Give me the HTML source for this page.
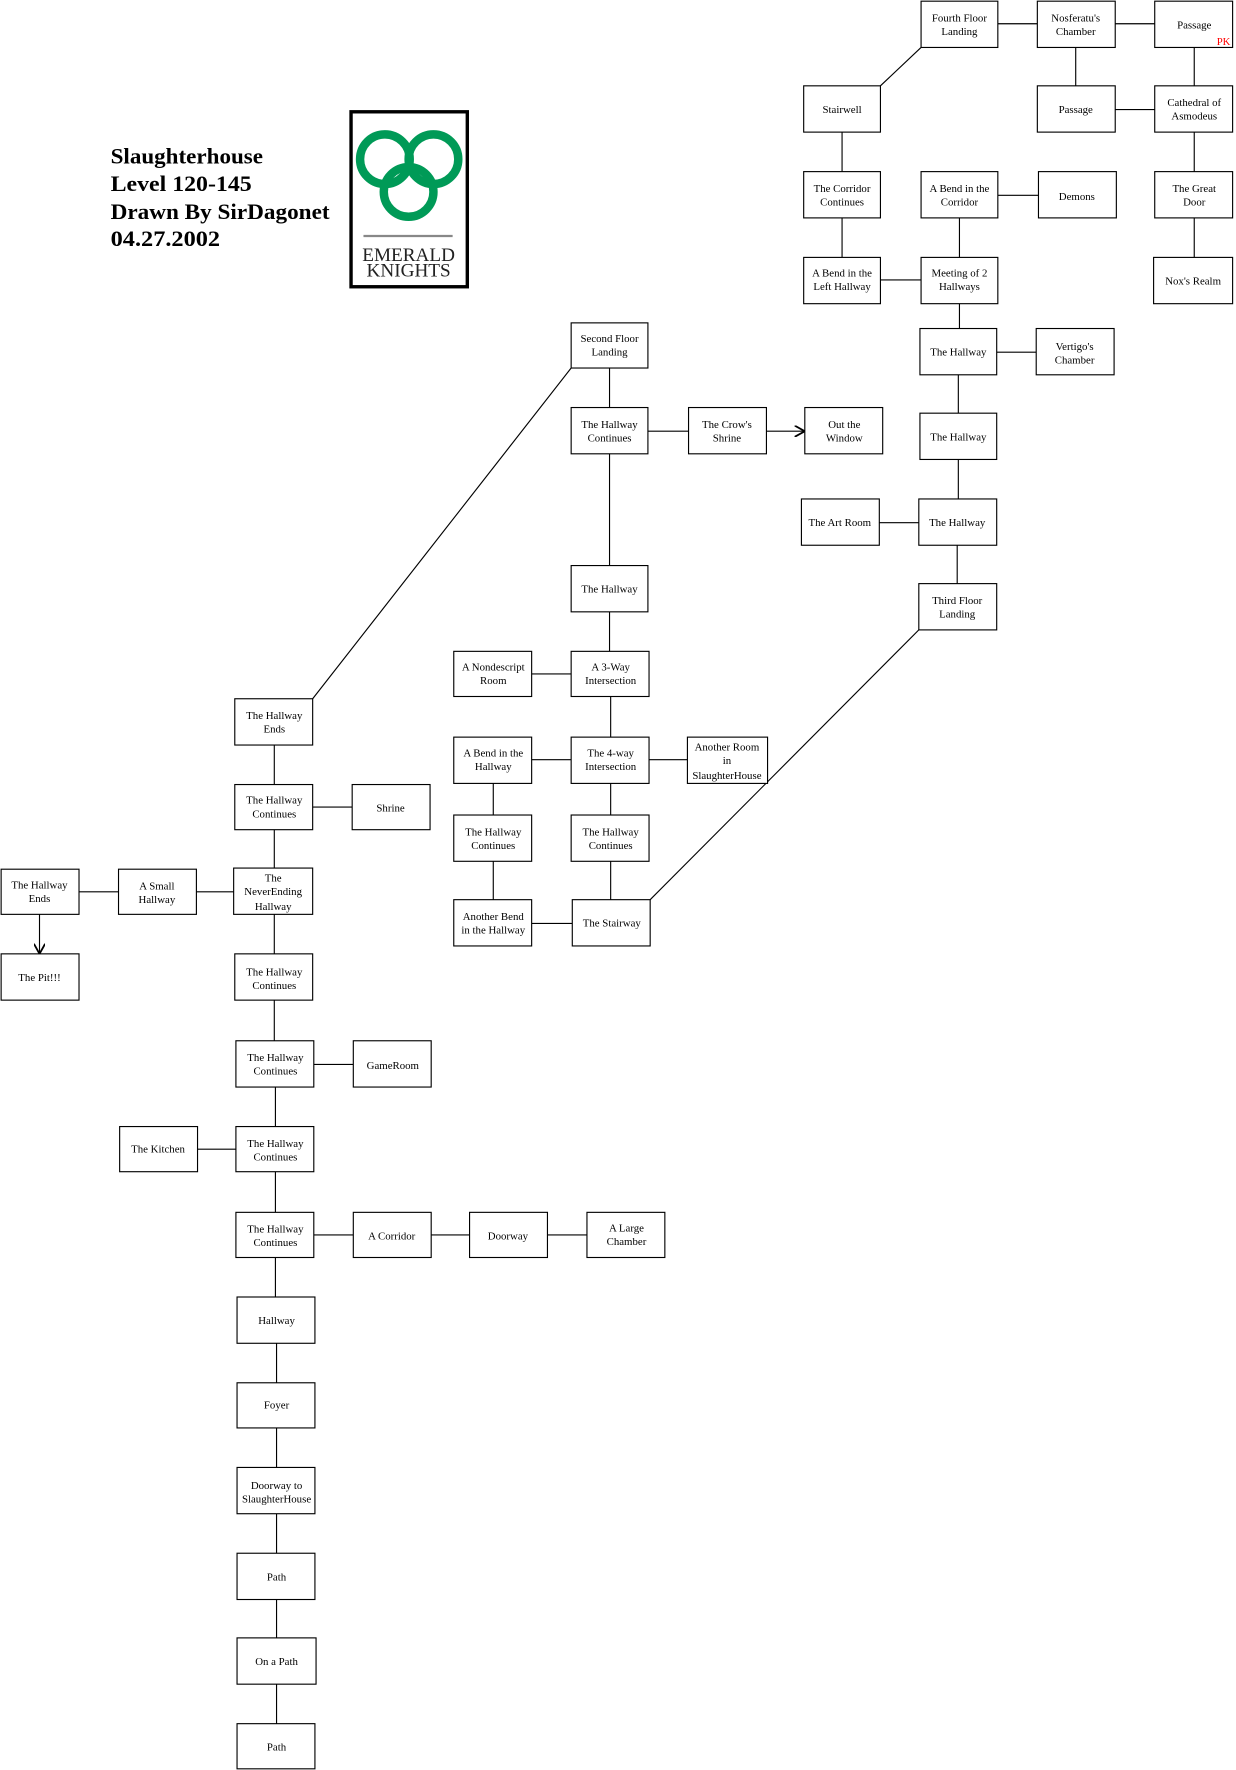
<!DOCTYPE html>
<html><head><meta charset="utf-8"><style>
html,body{margin:0;padding:0;background:#fff;}
svg{display:block;}
.b{fill:#fff;stroke:#000;stroke-width:1;}
.l{stroke:#000;stroke-width:1;fill:none;}
text{font-family:"Liberation Serif",serif;font-size:9.6px;text-anchor:middle;fill:#000;}
.t{font-size:19.5px;font-weight:bold;text-anchor:start;}
</style></head><body>
<svg width="1236" height="1770" viewBox="0 0 1095 1568" xmlns="http://www.w3.org/2000/svg">
<defs><marker id="a" markerWidth="10" markerHeight="10" refX="9" refY="5" orient="auto" markerUnits="userSpaceOnUse"><path d="M0,0 L9,5 L0,10" fill="none" stroke="#000" stroke-width="1.6"/></marker></defs>
<g class="l">
<line x1="884" y1="21" x2="919" y2="21"/><line x1="988" y1="21" x2="1023" y2="21"/>
<line x1="953" y1="42" x2="953" y2="76"/><line x1="1058" y1="42" x2="1058" y2="76"/>
<line x1="988" y1="97" x2="1023" y2="97"/><line x1="1058" y1="117" x2="1058" y2="152"/>
<line x1="1058" y1="193" x2="1058" y2="228"/>
<line x1="816" y1="42" x2="780" y2="76"/>
<line x1="746" y1="117" x2="746" y2="152"/><line x1="746" y1="193" x2="746" y2="228"/>
<line x1="780" y1="248" x2="816" y2="248"/><line x1="884" y1="173" x2="920" y2="173"/>
<line x1="850" y1="193" x2="850" y2="228"/><line x1="850" y1="269" x2="850" y2="291"/>
<line x1="883" y1="312" x2="918" y2="312"/><line x1="849" y1="332" x2="849" y2="366"/>
<line x1="849" y1="407" x2="849" y2="442"/><line x1="779" y1="463" x2="814" y2="463"/>
<line x1="848" y1="483" x2="848" y2="517"/>
<line x1="540" y1="326" x2="540" y2="361"/><line x1="574" y1="382" x2="610" y2="382"/>
<line x1="679" y1="382" x2="713" y2="382" marker-end="url(#a)"/>
<line x1="540" y1="402" x2="540" y2="501"/><line x1="540" y1="542" x2="540" y2="577"/>
<line x1="471" y1="597" x2="506" y2="597"/><line x1="541" y1="617" x2="541" y2="653"/>
<line x1="471" y1="673" x2="506" y2="673"/><line x1="575" y1="673" x2="609" y2="673"/>
<line x1="437" y1="694" x2="437" y2="722"/><line x1="541" y1="694" x2="541" y2="722"/>
<line x1="437" y1="763" x2="437" y2="797"/><line x1="541" y1="763" x2="541" y2="797"/>
<line x1="471" y1="818" x2="507" y2="818"/>
<line x1="576" y1="797" x2="814" y2="558"/>
<line x1="506" y1="326" x2="277" y2="619"/>
<line x1="243" y1="660" x2="243" y2="695"/><line x1="277" y1="715" x2="312" y2="715"/>
<line x1="243" y1="735" x2="243" y2="769"/><line x1="174" y1="790" x2="207" y2="790"/>
<line x1="70" y1="790" x2="105" y2="790"/>
<line x1="35" y1="810" x2="35" y2="845" marker-end="url(#a)"/>
<line x1="243" y1="810" x2="243" y2="845"/><line x1="243" y1="886" x2="243" y2="922"/>
<line x1="278" y1="943" x2="313" y2="943"/><line x1="244" y1="963" x2="244" y2="998"/>
<line x1="175" y1="1018" x2="209" y2="1018"/><line x1="244" y1="1038" x2="244" y2="1074"/>
<line x1="278" y1="1094" x2="313" y2="1094"/><line x1="382" y1="1094" x2="416" y2="1094"/>
<line x1="485" y1="1094" x2="520" y2="1094"/>
<line x1="244" y1="1114" x2="244" y2="1149"/><line x1="245" y1="1190" x2="245" y2="1225"/>
<line x1="245" y1="1265" x2="245" y2="1300"/><line x1="245" y1="1341" x2="245" y2="1376"/>
<line x1="245" y1="1417" x2="245" y2="1451"/><line x1="245" y1="1492" x2="245" y2="1527"/>
</g>
<g class="b">
<rect x="816" y="1" width="68" height="41"/><rect x="919" y="1" width="69" height="41"/><rect x="1023" y="1" width="69" height="41"/>
<rect x="712" y="76" width="68" height="41"/><rect x="919" y="76" width="69" height="41"/><rect x="1023" y="76" width="69" height="41"/>
<rect x="712" y="152" width="68" height="41"/><rect x="816" y="152" width="68" height="41"/><rect x="920" y="152" width="69" height="41"/><rect x="1023" y="152" width="69" height="41"/>
<rect x="712" y="228" width="68" height="41"/><rect x="816" y="228" width="68" height="41"/><rect x="1022" y="228" width="70" height="41"/>
<rect x="506" y="286" width="68" height="40"/><rect x="815" y="291" width="68" height="41"/><rect x="918" y="291" width="69" height="41"/>
<rect x="506" y="361" width="68" height="41"/><rect x="610" y="361" width="69" height="41"/><rect x="713" y="361" width="69" height="41"/>
<rect x="815" y="366" width="68" height="41"/><rect x="710" y="442" width="69" height="41"/><rect x="814" y="442" width="69" height="41"/>
<rect x="506" y="501" width="68" height="41"/><rect x="814" y="517" width="69" height="41"/>
<rect x="402" y="577" width="69" height="40"/><rect x="506" y="577" width="69" height="40"/>
<rect x="208" y="619" width="69" height="41"/>
<rect x="402" y="653" width="69" height="41"/><rect x="506" y="653" width="69" height="41"/><rect x="609" y="653" width="71" height="41"/>
<rect x="208" y="695" width="69" height="40"/><rect x="312" y="695" width="69" height="40"/>
<rect x="402" y="722" width="69" height="41"/><rect x="506" y="722" width="69" height="41"/>
<rect x="1" y="770" width="69" height="40"/><rect x="105" y="770" width="69" height="40"/><rect x="207" y="769" width="70" height="41"/>
<rect x="402" y="797" width="69" height="41"/><rect x="507" y="797" width="69" height="41"/>
<rect x="1" y="845" width="69" height="41"/><rect x="208" y="845" width="69" height="41"/>
<rect x="209" y="922" width="69" height="41"/><rect x="313" y="922" width="69" height="41"/>
<rect x="106" y="998" width="69" height="40"/><rect x="209" y="998" width="69" height="40"/>
<rect x="209" y="1074" width="69" height="40"/><rect x="313" y="1074" width="69" height="40"/><rect x="416" y="1074" width="69" height="40"/><rect x="520" y="1074" width="69" height="40"/>
<rect x="210" y="1149" width="69" height="41"/><rect x="210" y="1225" width="69" height="40"/><rect x="210" y="1300" width="69" height="41"/>
<rect x="210" y="1376" width="69" height="41"/><rect x="210" y="1451" width="70" height="41"/><rect x="210" y="1527" width="69" height="40"/>
</g>
<g>
<text x="850" y="19">Fourth Floor</text><text x="850" y="31">Landing</text>
<text x="953" y="19">Nosferatu's</text><text x="953" y="31">Chamber</text>
<text x="1058" y="25">Passage</text>
<text x="1084" y="40" style="fill:#f00;font-size:9.5px">PK</text>
<text x="746" y="100">Stairwell</text>
<text x="953" y="100">Passage</text>
<text x="1058" y="94">Cathedral of</text><text x="1058" y="106">Asmodeus</text>
<text x="746" y="170">The Corridor</text><text x="746" y="182">Continues</text>
<text x="850" y="170">A Bend in the</text><text x="850" y="182">Corridor</text>
<text x="954" y="177">Demons</text>
<text x="1058" y="170">The Great</text><text x="1058" y="182">Door</text>
<text x="746" y="245">A Bend in the</text><text x="746" y="257">Left Hallway</text>
<text x="850" y="245">Meeting of 2</text><text x="850" y="257">Hallways</text>
<text x="1057" y="252">Nox's Realm</text>
<text x="540" y="303">Second Floor</text><text x="540" y="315">Landing</text>
<text x="849" y="315">The Hallway</text>
<text x="952" y="310">Vertigo's</text><text x="952" y="322">Chamber</text>
<text x="540" y="379">The Hallway</text><text x="540" y="391">Continues</text>
<text x="644" y="379">The Crow's</text><text x="644" y="391">Shrine</text>
<text x="748" y="379">Out the</text><text x="748" y="391">Window</text>
<text x="849" y="390">The Hallway</text>
<text x="744" y="466">The Art Room</text>
<text x="848" y="466">The Hallway</text>
<text x="540" y="525">The Hallway</text>
<text x="848" y="535">Third Floor</text><text x="848" y="547">Landing</text>
<text x="437" y="594">A Nondescript</text><text x="437" y="606">Room</text>
<text x="541" y="594">A 3-Way</text><text x="541" y="606">Intersection</text>
<text x="243" y="637">The Hallway</text><text x="243" y="649">Ends</text>
<text x="437" y="670">A Bend in the</text><text x="437" y="682">Hallway</text>
<text x="541" y="670">The 4-way</text><text x="541" y="682">Intersection</text>
<text x="644" y="665">Another Room</text><text x="644" y="677">in</text><text x="644" y="690">SlaughterHouse</text>
<text x="243" y="712">The Hallway</text><text x="243" y="724">Continues</text>
<text x="346" y="719">Shrine</text>
<text x="437" y="740">The Hallway</text><text x="437" y="752">Continues</text>
<text x="541" y="740">The Hallway</text><text x="541" y="752">Continues</text>
<text x="35" y="787">The Hallway</text><text x="35" y="799">Ends</text>
<text x="139" y="788">A Small</text><text x="139" y="800">Hallway</text>
<text x="242" y="781">The</text><text x="242" y="793">NeverEnding</text><text x="242" y="806">Hallway</text>
<text x="437" y="815">Another Bend</text><text x="437" y="827">in the Hallway</text>
<text x="542" y="821">The Stairway</text>
<text x="35" y="869">The Pit!!!</text>
<text x="243" y="864">The Hallway</text><text x="243" y="876">Continues</text>
<text x="244" y="940">The Hallway</text><text x="244" y="952">Continues</text>
<text x="348" y="947">GameRoom</text>
<text x="140" y="1021">The Kitchen</text>
<text x="244" y="1016">The Hallway</text><text x="244" y="1028">Continues</text>
<text x="244" y="1092">The Hallway</text><text x="244" y="1104">Continues</text>
<text x="347" y="1098">A Corridor</text>
<text x="450" y="1098">Doorway</text>
<text x="555" y="1091">A Large</text><text x="555" y="1103">Chamber</text>
<text x="245" y="1173">Hallway</text>
<text x="245" y="1248">Foyer</text>
<text x="245" y="1319">Doorway to</text><text x="245" y="1331">SlaughterHouse</text>
<text x="245" y="1400">Path</text>
<text x="245" y="1475">On a Path</text>
<text x="245" y="1551">Path</text>
</g>
<text class="t" x="98" y="145" textLength="135" lengthAdjust="spacingAndGlyphs">Slaughterhouse</text>
<text class="t" x="98" y="169" textLength="125" lengthAdjust="spacingAndGlyphs">Level 120-145</text>
<text class="t" x="98" y="194" textLength="194" lengthAdjust="spacingAndGlyphs">Drawn By SirDagonet</text>
<text class="t" x="98" y="218" textLength="97" lengthAdjust="spacingAndGlyphs">04.27.2002</text>
<rect x="311" y="99" width="103" height="155" fill="#fff" stroke="#000" stroke-width="3"/>
<g fill="none" stroke="#009a57" stroke-width="7.5">
<circle cx="341" cy="141" r="22"/><circle cx="384" cy="141" r="22"/><circle cx="362" cy="170" r="22"/>
</g>
<line x1="322" y1="209" x2="401" y2="209" stroke="#888" stroke-width="2"/>
<text x="362" y="231" style="font-size:17px;fill:#222">EMERALD</text>
<text x="362" y="245" style="font-size:17px;fill:#222">KNIGHTS</text>
</svg>
</body></html>
